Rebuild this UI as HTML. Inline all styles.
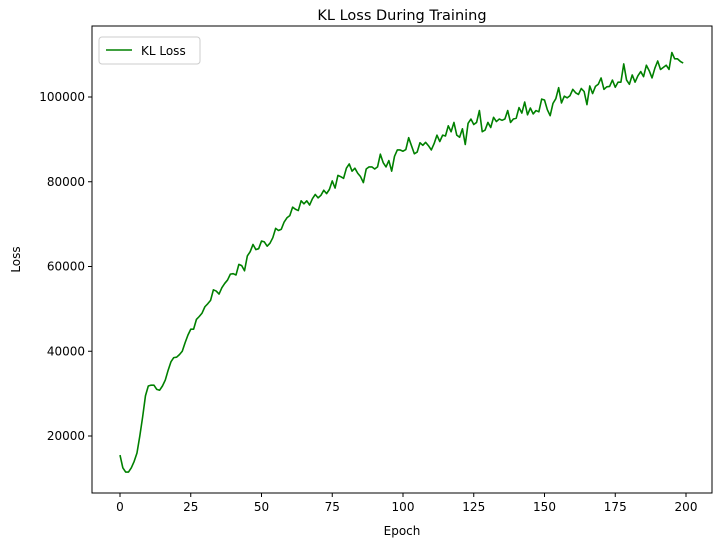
<!DOCTYPE html>
<html><head><meta charset="utf-8"><style>
body{margin:0;background:#fff;font-family:"Liberation Sans","DejaVu Sans",sans-serif}
svg text{font-family:"DejaVu Sans","Liberation Sans",sans-serif}
</style></head><body>
<svg id="chart" width="721" height="547"></svg>
<script>
const epochs = Array.from({length:200},(_, i)=>i);
const klLoss = [
15500,12500,11500,11500,12500,14000,16000,20000,24500,29500,
31800,32000,32000,31000,30800,31800,33200,35500,37500,38500,
38600,39200,40000,42000,43800,45200,45200,47500,48200,49000,
50500,51200,52000,54500,54200,53500,55000,56000,56800,58200,
58300,58000,60500,60200,59000,62500,63500,65200,64000,64200,
66000,65800,64800,65500,66800,69000,68500,68800,70500,71500,
72000,74000,73500,73200,75500,74800,75500,74500,76000,77000,
76200,76800,78000,77200,78200,80200,78500,81500,81200,80800,
83200,84200,82500,83200,82000,81200,79800,83000,83500,83500,
83000,83500,86500,84500,83500,85000,82500,86000,87500,87500,
87200,87600,90400,88500,86600,87000,89200,88600,89300,88500,
87500,89000,91000,89500,91000,90800,93200,91800,94000,91000,
90500,92500,88800,93800,94800,93500,94000,96800,91800,92200,
94000,92800,95200,94200,94800,94500,94800,96800,94000,94800,
95000,97500,96200,98800,95800,97400,96000,96800,96500,99500,
99300,97000,95600,98500,99600,102200,98600,100200,99800,100300,
101800,101000,100600,102000,101300,98200,102600,100800,102500,103000,
104500,101800,102400,102500,104000,102300,103500,103500,107800,104000,
103000,105200,103500,105000,106000,104800,107500,106200,104500,106800,
108500,106500,107000,107500,106500,110500,109000,109000,108400,108000];
const xTicks = [0,25,50,75,100,125,150,175,200];
const yTicks = [20000,40000,60000,80000,100000];

const NS="http://www.w3.org/2000/svg";
const svg=document.getElementById('chart');
const L=92,R=712,T=26,B=493;
const xs=v=>120+(v)*(686-120)/200;
const ys=v=>436-(v-20000)*(436-97)/80000;
function mk(tag,attrs,parent){const e=document.createElementNS(NS,tag);for(const k in attrs)e.setAttribute(k,attrs[k]);(parent||svg).appendChild(e);return e;}

const frame=mk('rect',{x:L,y:T,width:R-L,height:B-T,fill:'none',stroke:'#000','stroke-width':1});



xTicks.forEach(t=>{
  const g=mk('g',{});
  
  
  mk('line',{x1:xs(t),x2:xs(t),y1:B,y2:B+4,stroke:'#000'},g);
  const tx=mk('text',{x:xs(t),y:B+18,'text-anchor':'middle','font-size':12,fill:'#000'},g);tx.textContent=t;
});
yTicks.forEach(t=>{
  const g=mk('g',{});
  
  
  mk('line',{x1:L-4,x2:L,y1:ys(t),y2:ys(t),stroke:'#000'},g);
  const tx=mk('text',{x:L-7,y:ys(t)+4,'text-anchor':'end','font-size':12,fill:'#000'},g);tx.textContent=t;
});

const pts=epochs.map((e,i)=>xs(e).toFixed(2)+','+ys(klLoss[i]).toFixed(2)).join(' ');
const line=mk('polyline',{points:pts,fill:'none',stroke:'#008000','stroke-width':1.6,'stroke-linejoin':'round'});



const title=mk('text',{x:(L+R)/2,y:20,'text-anchor':'middle','font-size':14.5,fill:'#000'});
title.textContent='KL Loss During Training';



const xl=mk('text',{x:(L+R)/2,y:535,'text-anchor':'middle','font-size':12,fill:'#000'});
xl.textContent='Epoch';



const yl=mk('text',{x:20,y:(T+B)/2,'text-anchor':'middle','font-size':12,fill:'#000',transform:'rotate(-90 20 '+((T+B)/2)+')'});
yl.textContent='Loss';



const lg=mk('g',{});


mk('rect',{x:99,y:37,width:101,height:27,rx:3,fill:'#fff',stroke:'#ccc'},lg);
mk('line',{x1:106,x2:132,y1:50,y2:50,stroke:'#008000','stroke-width':1.6},lg);
const lt=mk('text',{x:141,y:55,'font-size':12,fill:'#000'},lg);lt.textContent='KL Loss';
</script>
</body></html>
